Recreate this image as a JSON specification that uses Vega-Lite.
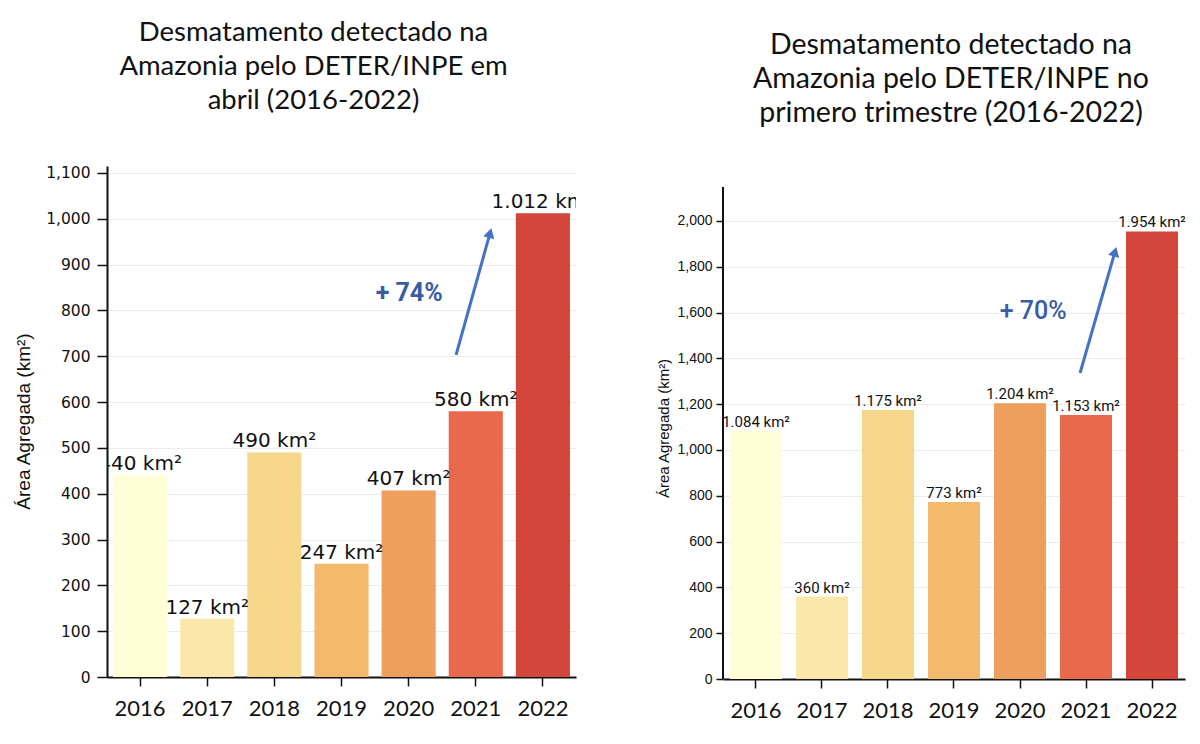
{
  "$schema": "https://vega.github.io/schema/vega-lite/v6.json",
  "autosize": {"type": "none"},
  "padding": {"left": 107, "top": 166, "right": 1093, "bottom": 578},
  "background": "white",
  "spacing": 147,
  "bounds": "flush",
  "datasets": {
    "abril": [
      {"ano": "2016", "area": 440},
      {"ano": "2017", "area": 127},
      {"ano": "2018", "area": 490},
      {"ano": "2019", "area": 247},
      {"ano": "2020", "area": 407},
      {"ano": "2021", "area": 580},
      {"ano": "2022", "area": 1012}
    ],
    "trimestre": [
      {"ano": "2016", "area": 1084},
      {"ano": "2017", "area": 360},
      {"ano": "2018", "area": 1175},
      {"ano": "2019", "area": 773},
      {"ano": "2020", "area": 1204},
      {"ano": "2021", "area": 1153},
      {"ano": "2022", "area": 1954}
    ],
    "setaAbril": [{"u": 5.21, "area": 703, "u2": 5.718, "area2": 969}],
    "pontaAbril": [{"u": 5.718, "area": 969}],
    "notaAbril": [{"u": 4.51, "area": 838, "nota": "+ 74%"}],
    "setaTrimestre": [{"u": 5.41, "area": 1336, "u2": 5.94, "area2": 1866}],
    "pontaTrimestre": [{"u": 5.94, "area": 1866}],
    "notaTrimestre": [{"u": 4.7, "area": 1607, "nota": "+ 70%"}]
  },
  "config": {
    "view": {"stroke": null},
    "axis": {
      "domainColor": "#111111",
      "domainWidth": 2,
      "tickColor": "#111111",
      "tickWidth": 1.5,
      "gridColor": "#ececec",
      "gridWidth": 1,
      "labelColor": "#111111",
      "titleColor": "#111111"
    }
  },
  "hconcat": [
    {
      "width": 469,
      "height": 511,
      "title": {
        "text": ["Desmatamento detectado na", "Amazonia pelo DETER/INPE em", "abril (2016-2022)"],
        "font": "Lato",
        "fontSize": 27.5,
        "fontWeight": "normal",
        "lineHeight": 34,
        "anchor": "middle",
        "frame": "group",
        "baseline": "bottom",
        "dx": -28,
        "offset": 23,
        "color": "#111111"
      },
      "layer": [
        {
          "data": {"name": "abril"},
          "encoding": {
            "x": {
              "field": "ano",
              "type": "ordinal",
              "scale": {"paddingInner": 0.194, "paddingOuter": 0.09},
              "axis": {
                "title": null,
                "labelAngle": 0,
                "labelFont": "Lato",
                "labelFontSize": 22,
                "labelPadding": 12,
                "tickSize": 9,
                "grid": false
              }
            },
            "y": {
              "field": "area",
              "type": "quantitative",
              "scale": {"domain": [0, 1115], "nice": false},
              "axis": {
                "title": "Área Agregada (km²)",
                "titleFont": "Liberation Sans",
                "titleFontSize": 19,
                "titleFontWeight": "normal",
                "titleAngle": -90,
                "titleX": -84,
                "titleY": 255,
                "titleAlign": "center",
                "titleBaseline": "middle",
                "values": [0, 100, 200, 300, 400, 500, 600, 700, 800, 900, 1000, 1100],
                "format": ",.0f",
                "labelFont": "DejaVu Sans",
                "labelFontSize": 15.5,
                "labelPadding": 7,
                "tickSize": 10,
                "grid": true
              }
            }
          },
          "layer": [
            {
              "mark": {"type": "bar"},
              "encoding": {
                "color": {
                  "field": "ano",
                  "type": "ordinal",
                  "scale": {
                    "domain": ["2016", "2017", "2018", "2019", "2020", "2021", "2022"],
                    "range": ["#fffed6", "#fbe7a9", "#f6d68b", "#f3b96c", "#ee9e5d", "#e9694d", "#d4453b"]
                  },
                  "legend": null
                }
              }
            },
            {
              "transform": [
                {"calculate": "replace(format(datum.area, ','), ',', '.') + ' km²'", "as": "rotulo"}
              ],
              "mark": {
                "type": "text",
                "clip": true,
                "baseline": "alphabetic",
                "dy": -5,
                "font": "DejaVu Sans",
                "fontSize": 20,
                "color": "#111111"
              },
              "encoding": {"text": {"field": "rotulo"}}
            }
          ]
        },
        {
          "layer": [
            {
              "data": {"name": "setaAbril"},
              "mark": {"type": "rule", "color": "#4472c4", "strokeWidth": 3},
              "encoding": {
                "x": {"field": "u", "type": "quantitative", "scale": {"domain": [0, 7], "nice": false, "zero": false}, "axis": null},
                "x2": {"field": "u2"},
                "y": {"field": "area", "type": "quantitative"},
                "y2": {"field": "area2"}
              }
            },
            {
              "data": {"name": "pontaAbril"},
              "mark": {"type": "point", "shape": "triangle-up", "angle": 15.6, "filled": true, "size": 130, "color": "#4472c4", "opacity": 1},
              "encoding": {
                "x": {"field": "u", "type": "quantitative", "axis": null},
                "y": {"field": "area", "type": "quantitative"}
              }
            },
            {
              "data": {"name": "notaAbril"},
              "mark": {"type": "text", "font": "Roboto", "fontSize": 25, "fontWeight": "bold", "color": "#3a5ba6"},
              "encoding": {
                "x": {"field": "u", "type": "quantitative", "axis": null},
                "y": {"field": "area", "type": "quantitative"},
                "text": {"field": "nota"}
              }
            }
          ]
        }
      ],
      "resolve": {"scale": {"x": "independent"}}
    },
    {
      "width": 462,
      "height": 513,
      "title": {
        "text": ["Desmatamento detectado na", "Amazonia pelo DETER/INPE no", "primero trimestre (2016-2022)"],
        "font": "Lato",
        "fontSize": 28.5,
        "fontWeight": "normal",
        "lineHeight": 34,
        "anchor": "middle",
        "frame": "group",
        "baseline": "bottom",
        "dx": -3,
        "offset": 10,
        "color": "#111111"
      },
      "layer": [
        {
          "data": {"name": "trimestre"},
          "encoding": {
            "x": {
              "field": "ano",
              "type": "ordinal",
              "scale": {"paddingInner": 0.212, "paddingOuter": 0.106},
              "axis": {
                "title": null,
                "labelAngle": 0,
                "labelFont": "Lato",
                "labelFontSize": 22,
                "labelPadding": 12,
                "tickSize": 9,
                "grid": false
              }
            },
            "y": {
              "field": "area",
              "type": "quantitative",
              "scale": {"domain": [0, 2240], "nice": false},
              "axis": {
                "title": "Área Agregada (km²)",
                "titleFont": "Liberation Sans",
                "titleFontSize": 15,
                "titleFontWeight": "normal",
                "titleAngle": -90,
                "titleX": -60,
                "titleY": 262,
                "titleAlign": "center",
                "titleBaseline": "middle",
                "values": [0, 200, 400, 600, 800, 1000, 1200, 1400, 1600, 1800, 2000],
                "format": ",.0f",
                "labelFont": "Liberation Sans",
                "labelFontSize": 14,
                "labelPadding": 4,
                "tickSize": 7,
                "domain": false,
                "grid": true
              }
            }
          },
          "layer": [
            {
              "mark": {"type": "bar"},
              "encoding": {
                "color": {
                  "field": "ano",
                  "type": "ordinal",
                  "scale": {
                    "domain": ["2016", "2017", "2018", "2019", "2020", "2021", "2022"],
                    "range": ["#fffed6", "#fbe7a9", "#f6d68b", "#f3b96c", "#ee9e5d", "#e9694d", "#d4453b"]
                  },
                  "legend": null
                }
              }
            },
            {
              "transform": [
                {"calculate": "replace(format(datum.area, ','), ',', '.') + ' km²'", "as": "rotulo"}
              ],
              "mark": {
                "type": "text",
                "clip": true,
                "baseline": "alphabetic",
                "dy": -4,
                "font": "Roboto",
                "fontSize": 15,
                "color": "#111111"
              },
              "encoding": {"text": {"field": "rotulo"}}
            }
          ]
        },
        {
          "layer": [
            {
              "data": {"values": [{}]},
              "mark": {"type": "rule", "color": "#111111", "strokeWidth": 2},
              "encoding": {
                "x": {"datum": 0, "type": "quantitative", "scale": {"domain": [0, 7], "nice": false, "zero": false}, "axis": null},
                "y": {"datum": 0, "type": "quantitative"},
                "y2": {"datum": 2148}
              }
            },
            {
              "data": {"name": "setaTrimestre"},
              "mark": {"type": "rule", "color": "#4472c4", "strokeWidth": 3},
              "encoding": {
                "x": {"field": "u", "type": "quantitative", "axis": null},
                "x2": {"field": "u2"},
                "y": {"field": "area", "type": "quantitative"},
                "y2": {"field": "area2"}
              }
            },
            {
              "data": {"name": "pontaTrimestre"},
              "mark": {"type": "point", "shape": "triangle-up", "angle": 16.1, "filled": true, "size": 130, "color": "#4472c4", "opacity": 1},
              "encoding": {
                "x": {"field": "u", "type": "quantitative", "axis": null},
                "y": {"field": "area", "type": "quantitative"}
              }
            },
            {
              "data": {"name": "notaTrimestre"},
              "mark": {"type": "text", "font": "Roboto", "fontSize": 25, "fontWeight": 500, "color": "#3a5ba6"},
              "encoding": {
                "x": {"field": "u", "type": "quantitative", "axis": null},
                "y": {"field": "area", "type": "quantitative"},
                "text": {"field": "nota"}
              }
            }
          ]
        }
      ],
      "resolve": {"scale": {"x": "independent"}}
    }
  ]
}
